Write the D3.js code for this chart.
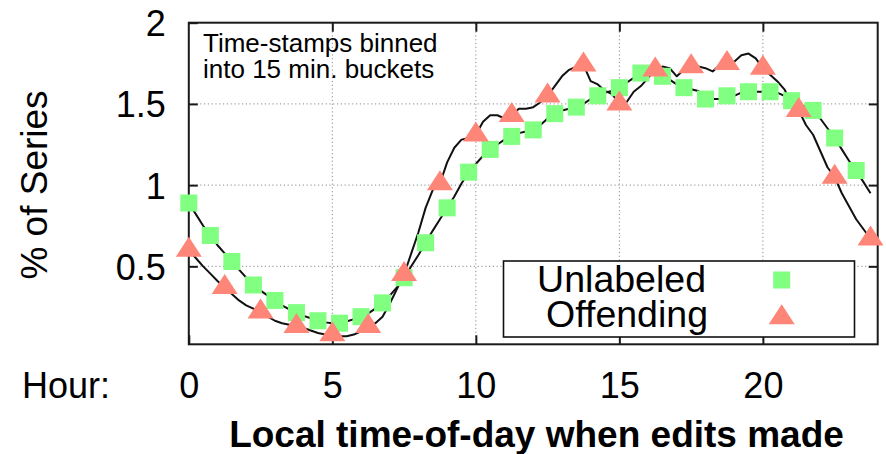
<!DOCTYPE html>
<html><head><meta charset="utf-8">
<script src="https://cdn.jsdelivr.net/npm/d3@7/dist/d3.min.js"></script>
<style>
body{margin:0;background:#fff}
svg{display:block}
text{font-family:"Liberation Sans",Arial,Helvetica,sans-serif;fill:#000}
</style>
</head><body>
<svg id="c" width="886" height="454"></svg>
<script>
// 15-minute buckets (hour of day)
const bucketHours = d3.range(96).map(i => i * 0.25);

// Unlabeled series, % of series per 15-min bucket
const unlabeled = [
  0.89,0.82,0.75,0.69,0.63,0.58,0.53,0.48,0.43,0.385,0.35,0.32,
  0.29,0.26,0.235,0.215,0.195,0.18,0.165,0.155,0.15,0.15,0.16,0.175,
  0.19,0.21,0.24,0.275,0.32,0.37,0.43,0.50,0.57,0.645,0.72,0.79,
  0.86,0.93,1.01,1.08,1.13,1.18,1.22,1.25,1.28,1.30,1.32,1.33,
  1.34,1.37,1.41,1.44,1.46,1.47,1.48,1.50,1.53,1.55,1.57,1.58,
  1.60,1.63,1.66,1.69,1.69,1.68,1.67,1.65,1.62,1.60,1.59,1.58,
  1.53,1.53,1.53,1.55,1.55,1.57,1.575,1.575,1.575,1.575,1.57,1.55,
  1.52,1.50,1.48,1.46,1.41,1.35,1.29,1.22,1.15,1.09,1.02,0.95
];

// Offending series, % of series per 15-min bucket
const offending = [
  0.60,0.55,0.50,0.455,0.41,0.37,0.33,0.29,0.26,0.24,0.22,0.19,
  0.165,0.15,0.14,0.13,0.12,0.105,0.09,0.08,0.08,0.07,0.07,0.08,
  0.10,0.13,0.15,0.19,0.27,0.36,0.45,0.58,0.71,0.86,0.97,1.01,
  1.14,1.23,1.28,1.29,1.31,1.39,1.43,1.43,1.41,1.43,1.47,1.47,
  1.48,1.51,1.55,1.61,1.67,1.71,1.73,1.74,1.64,1.62,1.58,1.56,
  1.50,1.51,1.575,1.61,1.66,1.71,1.73,1.72,1.67,1.71,1.73,1.73,
  1.72,1.70,1.74,1.75,1.76,1.80,1.81,1.78,1.72,1.68,1.64,1.59,
  1.50,1.46,1.37,1.31,1.21,1.11,1.05,0.95,0.87,0.79,0.73,0.67
];

const seriesNames = ["Unlabeled", "Offending"];
const xTicks = [0, 5, 10, 15, 20];
const yTicks = [0.5, 1, 1.5, 2];
const yTickLabels = ["0.5", "1", "1.5", "2"];

const svg = d3.select("#c");
const L = 188.8, R = 877.7, T = 22.7, B = 344.3;
const x = d3.scaleLinear().domain([0, 24]).range([L, R]);
const y = d3.scaleLinear().domain([0.02, 2]).range([B, T]);

// grid
const grid = svg.append("g").attr("stroke", "#8a8a8a").attr("stroke-width", 1)
  .attr("stroke-dasharray", "1.2,2.6");
grid.selectAll(".gx").data(xTicks.filter(d => d > 0)).join("line")
  .attr("x1", d => x(d)).attr("x2", d => x(d)).attr("y1", B).attr("y2", T);
grid.selectAll(".gy").data(yTicks.filter(d => d < 2)).join("line")
  .attr("y1", d => y(d)).attr("y2", d => y(d)).attr("x1", L).attr("x2", R);

// annotation
const ann = svg.append("text").attr("font-size", 26);
ann.append("tspan").attr("x", 203).attr("y", 52).text("Time-stamps binned");
ann.append("tspan").attr("x", 203).attr("y", 78).text("into 15 min. buckets");

// lines
const line = d3.line().x((d, i) => x(bucketHours[i])).y(d => y(d)).curve(d3.curveLinear);
[unlabeled, offending].forEach(s => {
  svg.append("path").datum(s).attr("d", line).attr("fill", "none")
    .attr("stroke", "#111").attr("stroke-width", 2).attr("stroke-linejoin", "round");
});

// legend box
const lg = svg.append("g");
lg.append("rect").attr("x", 503.5).attr("y", 261).attr("width", 351).attr("height", 76)
  .attr("fill", "#fff").attr("stroke", "#111").attr("stroke-width", 1.6);
lg.append("text").attr("x", 706).attr("y", 292).attr("font-size", 37.5).attr("text-anchor", "end").text(seriesNames[0]);
lg.append("text").attr("x", 708).attr("y", 327).attr("font-size", 37.5).attr("text-anchor", "end").text(seriesNames[1]);

// frame
svg.append("rect").attr("x", L).attr("y", T).attr("width", R - L).attr("height", B - T)
  .attr("fill", "none").attr("stroke", "#1a1a1a").attr("stroke-width", 2);

// axes (inward ticks)
const ax = svg.append("g").attr("transform", `translate(0,${B})`)
  .call(d3.axisBottom(x).tickValues(xTicks).tickSizeInner(-9).tickSizeOuter(0).tickFormat(d3.format("d")));
ax.select(".domain").remove();
ax.selectAll("line").attr("stroke", "#1a1a1a").attr("stroke-width", 2);
ax.selectAll("text").attr("y", 54).attr("dy", 0).attr("font-size", 36)
  .attr("font-family", "Liberation Sans, Arial, sans-serif").attr("fill", "#000");

const axt = svg.append("g").attr("transform", `translate(0,${T})`)
  .call(d3.axisTop(x).tickValues(xTicks.filter(d => d > 0)).tickSizeInner(-9).tickSizeOuter(0).tickFormat(""));
axt.select(".domain").remove();
axt.selectAll("line").attr("stroke", "#1a1a1a").attr("stroke-width", 2);

const ayl = svg.append("g").attr("transform", `translate(${L},0)`)
  .call(d3.axisLeft(y).tickValues(yTicks).tickSizeInner(-9).tickSizeOuter(0).tickPadding(23)
    .tickFormat((d, i) => yTickLabels[i]));
ayl.select(".domain").remove();
ayl.selectAll("line").attr("stroke", "#1a1a1a").attr("stroke-width", 2);
ayl.selectAll("text").attr("font-size", 36).attr("dy", "0.36em")
  .attr("font-family", "Liberation Sans, Arial, sans-serif").attr("fill", "#000");

const ayr = svg.append("g").attr("transform", `translate(${R},0)`)
  .call(d3.axisRight(y).tickValues(yTicks.filter(d => d < 2)).tickSizeInner(-9).tickSizeOuter(0).tickFormat(""));
ayr.select(".domain").remove();
ayr.selectAll("line").attr("stroke", "#1a1a1a").attr("stroke-width", 2);

// markers
const green = "#80ff80", salmon = "#fd8679";
const sq = 17;
svg.append("g").selectAll("rect").data(unlabeled.map((v, i) => [bucketHours[i], v]).filter((d, i) => i % 3 === 0))
  .join("rect").attr("x", d => x(d[0]) - sq / 2).attr("y", d => y(d[1]) - sq / 2)
  .attr("width", sq).attr("height", sq).attr("fill", green);
const tw = 26, th = 20;
const triPath = `M0,${-th * 2 / 3}L${tw / 2},${th / 3}L${-tw / 2},${th / 3}Z`;
svg.append("g").selectAll("path").data(offending.map((v, i) => [bucketHours[i], v]).filter((d, i) => i % 5 === 0))
  .join("path").attr("d", triPath).attr("transform", d => `translate(${x(d[0])},${y(d[1])})`)
  .attr("fill", salmon);

// legend markers
lg.append("rect").attr("x", 781.7 - sq / 2).attr("y", 280 - sq / 2).attr("width", sq).attr("height", sq).attr("fill", green);
lg.append("path").attr("d", triPath).attr("transform", "translate(781.7,317.5)").attr("fill", salmon);
svg.node().appendChild(lg.node());

// axis titles
svg.append("text").attr("x", 22).attr("y", 398).attr("font-size", 36).text("Hour:");
svg.append("text").attr("x", 536.5).attr("y", 447).attr("font-size", 37).attr("font-weight", "bold")
  .attr("text-anchor", "middle").text("Local time-of-day when edits made");
svg.append("text").attr("transform", "translate(47,185) rotate(-90)").attr("font-size", 37)
  .attr("text-anchor", "middle").text("% of Series");
</script>
</body></html>
